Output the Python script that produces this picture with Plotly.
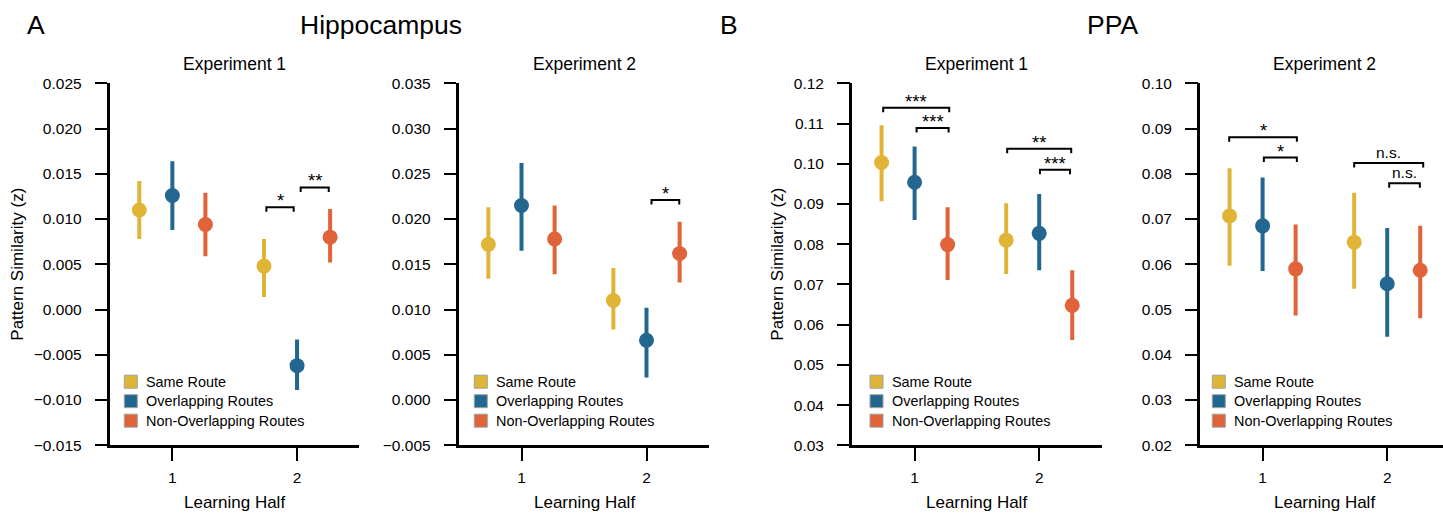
import plotly.graph_objects as go

# ---------------- data ----------------
halves = [1, 2]
half_labels = ["1", "2"]
conditions = ["Same Route", "Overlapping Routes", "Non-Overlapping Routes"]
colors = ["#E0B436", "#23668F", "#E0633A"]
offsets = [-0.265, 0.0, 0.265]

panel_titles = ["Experiment 1", "Experiment 2", "Experiment 1", "Experiment 2"]

# Hippocampus, Experiment 1
hipp1_mean = {"Same Route": [0.0110, 0.0048], "Overlapping Routes": [0.0126, -0.0062], "Non-Overlapping Routes": [0.0094, 0.0080]}
hipp1_low = {"Same Route": [0.0078, 0.0014], "Overlapping Routes": [0.0088, -0.0089], "Non-Overlapping Routes": [0.0059, 0.0052]}
hipp1_high = {"Same Route": [0.0142, 0.0078], "Overlapping Routes": [0.0164, -0.0033], "Non-Overlapping Routes": [0.0129, 0.0111]}

# Hippocampus, Experiment 2
hipp2_mean = {"Same Route": [0.0172, 0.0110], "Overlapping Routes": [0.0215, 0.0066], "Non-Overlapping Routes": [0.0178, 0.0162]}
hipp2_low = {"Same Route": [0.0134, 0.0078], "Overlapping Routes": [0.0165, 0.0025], "Non-Overlapping Routes": [0.0139, 0.0130]}
hipp2_high = {"Same Route": [0.0213, 0.0146], "Overlapping Routes": [0.0262, 0.0102], "Non-Overlapping Routes": [0.0215, 0.0197]}

# PPA, Experiment 1
ppa1_mean = {"Same Route": [0.1003, 0.0810], "Overlapping Routes": [0.0954, 0.0827], "Non-Overlapping Routes": [0.0799, 0.0648]}
ppa1_low = {"Same Route": [0.0907, 0.0726], "Overlapping Routes": [0.0860, 0.0735], "Non-Overlapping Routes": [0.0711, 0.0562]}
ppa1_high = {"Same Route": [0.1096, 0.0902], "Overlapping Routes": [0.1043, 0.0925], "Non-Overlapping Routes": [0.0892, 0.0735]}

# PPA, Experiment 2
ppa2_mean = {"Same Route": [0.0707, 0.0649], "Overlapping Routes": [0.0685, 0.0557], "Non-Overlapping Routes": [0.0590, 0.0587]}
ppa2_low = {"Same Route": [0.0597, 0.0546], "Overlapping Routes": [0.0585, 0.0440], "Non-Overlapping Routes": [0.0487, 0.0481]}
ppa2_high = {"Same Route": [0.0812, 0.0758], "Overlapping Routes": [0.0792, 0.0680], "Non-Overlapping Routes": [0.0688, 0.0685]}

# y axis ranges / tick steps / formats
y_ranges = [[-0.015, 0.025], [-0.005, 0.035], [0.03, 0.12], [0.02, 0.10]]
y_dticks = [0.005, 0.005, 0.01, 0.01]
y_formats = [".3f", ".3f", ".2f", ".2f"]

# significance brackets: (x start, x end, y, label)
brackets_hipp1 = [(1.754, 1.973, 0.0113, "*"), (2.029, 2.254, 0.0135, "**")]
brackets_hipp2 = [(2.040, 2.262, 0.0221, "*")]
brackets_ppa1 = [(0.748, 1.278, 0.1139, "***"), (1.016, 1.273, 0.1089, "***"),
                 (1.743, 2.257, 0.1037, "**"), (2.006, 2.247, 0.0985, "***")]
brackets_ppa2 = [(0.732, 1.275, 0.0881, "*"), (1.010, 1.275, 0.0836, "*"),
                 (1.735, 2.289, 0.0824, "n.s."), (2.016, 2.262, 0.0779, "n.s.")]

# ---------------- layout geometry (pixels) ----------------
W, H = 1443, 513
FONT = "Liberation Sans, Arial, Helvetica, sans-serif"
axis_left_px = [110.0, 459.0, 852.3, 1200.3]
unit_px = [124.7, 125.0, 124.6, 124.6]
y_top_px, y_bot_px = 83.3, 445.3
legend_offset_px = [14.3, 15.3, 17.7, 12.0]
ytitle_x_px = {0: 16.7, 2: 776.7}

panels = [
    (hipp1_mean, hipp1_low, hipp1_high, brackets_hipp1),
    (hipp2_mean, hipp2_low, hipp2_high, brackets_hipp2),
    (ppa1_mean, ppa1_low, ppa1_high, brackets_ppa1),
    (ppa2_mean, ppa2_low, ppa2_high, brackets_ppa2),
]

fig = go.Figure()
shapes = []
annotations = []
layout = {}

def px_x(p):
    return p / W

def px_y(p):
    return (H - p) / H

for i, (mean, low, high, brackets) in enumerate(panels):
    xa = "x" if i == 0 else f"x{i+1}"
    ya = "y" if i == 0 else f"y{i+1}"
    xkey = "xaxis" if i == 0 else f"xaxis{i+1}"
    ykey = "yaxis" if i == 0 else f"yaxis{i+1}"

    x0 = axis_left_px[i]
    x1 = min(x0 + 2 * unit_px[i], W)
    xr_max = 0.5 + (x1 - x0) / unit_px[i]

    layout[xkey] = dict(
        domain=[px_x(x0), px_x(x1)], range=[0.5, xr_max], anchor=ya,
        tickvals=halves, ticktext=half_labels, ticks="outside", ticklen=13, tickwidth=2,
        tickcolor="black", showline=True, linecolor="black", linewidth=2.5,
        showgrid=False, zeroline=False, tickfont=dict(size=15.5, color="black", family=FONT),
        ticklabelstandoff=3,
    )
    layout[ykey] = dict(
        domain=[px_y(y_bot_px), px_y(y_top_px)], range=y_ranges[i], anchor=xa,
        dtick=y_dticks[i], tick0=0, tickformat=y_formats[i], ticks="outside", ticklen=12.5,
        tickwidth=1.5, tickcolor="black", showline=True, linecolor="black", linewidth=2.5,
        showgrid=False, zeroline=False, tickfont=dict(size=15.5, color="black", family=FONT),
        ticklabelstandoff=10,
    )

    for c, cond in enumerate(conditions):
        xs = [h + offsets[c] for h in halves]
        m = mean[cond]
        up = [hi - mm for hi, mm in zip(high[cond], m)]
        dn = [mm - lo for lo, mm in zip(low[cond], m)]
        fig.add_trace(go.Scatter(
            x=xs, y=m, mode="markers", name=cond, showlegend=False,
            marker=dict(color=colors[c], size=15, line=dict(width=0)),
            error_y=dict(type="data", symmetric=False, array=up, arrayminus=dn,
                         thickness=4, width=0, color=colors[c]),
            xaxis=xa, yaxis=ya,
        ))

    # brackets
    yspan = y_ranges[i][1] - y_ranges[i][0]
    drop = yspan / (y_bot_px - y_top_px) * 4.5
    for (bx0, bx1, by, lab) in brackets:
        shapes.append(dict(
            type="path", xref=xa, yref=ya,
            path=f"M {bx0},{by - drop} L {bx0},{by} L {bx1},{by} L {bx1},{by - drop}",
            line=dict(color="black", width=2),
        ))
        is_star = "*" in lab
        annotations.append(dict(
            x=(bx0 + bx1) / 2, y=by, xref=xa, yref=ya, text=lab, showarrow=False,
            yanchor="bottom", yshift=(-6 if is_star else 0),
            font=dict(size=18.5 if is_star else 15.5, color="black", family=FONT),
        ))

    # panel title
    annotations.append(dict(
        x=1.5, y=px_y(64), xref=xa, yref="paper", text=panel_titles[i], showarrow=False,
        yanchor="middle", xanchor="center", font=dict(size=17.5, color="black", family=FONT),
    ))
    # x axis title
    annotations.append(dict(
        x=1.5, y=px_y(502.5), xref=xa, yref="paper", text="Learning Half", showarrow=False,
        yanchor="middle", xanchor="center", font=dict(size=17, color="black", family=FONT),
    ))
    # y axis title
    if i in ytitle_x_px:
        annotations.append(dict(
            x=px_x(ytitle_x_px[i]), y=px_y(264), xref="paper", yref="paper",
            text="Pattern Similarity (z)", showarrow=False, textangle=-90,
            xanchor="center", yanchor="middle", font=dict(size=17, color="black", family=FONT),
        ))

    # legend (drawn manually in each panel)
    lx = x0 + legend_offset_px[i]
    for c, cond in enumerate(conditions):
        cy = 381.7 + c * 19.5
        shapes.append(dict(
            type="rect", xref="paper", yref="paper",
            x0=px_x(lx), x1=px_x(lx + 13), y0=px_y(cy + 6.5), y1=px_y(cy - 6.5),
            fillcolor=colors[c], line=dict(color="#A0A0A0", width=1),
        ))
        annotations.append(dict(
            x=px_x(lx + 20), y=px_y(cy), xref="paper", yref="paper", text=cond,
            showarrow=False, xanchor="left", yanchor="middle",
            font=dict(size=14.4, color="black", family=FONT),
        ))

# big titles and panel letters
for txt, cx in [("A", 36), ("Hippocampus", 381), ("B", 729), ("PPA", 1112)]:
    annotations.append(dict(
        x=px_x(cx), y=px_y(25), xref="paper", yref="paper", text=txt, showarrow=False,
        xanchor="center", yanchor="middle", font=dict(size=26.5, color="black", family=FONT),
    ))

fig.update_layout(
    width=W, height=H, margin=dict(l=0, r=0, t=0, b=0, autoexpand=False),
    paper_bgcolor="white", plot_bgcolor="white",
    font=dict(family=FONT, color="black"),
    shapes=shapes, annotations=annotations, showlegend=False,
    **layout,
)

fig.write_html(
    "out.html",
    config={"displayModeBar": False},
    post_script="document.body.style.margin='0';document.body.style.overflow='hidden';",
)
